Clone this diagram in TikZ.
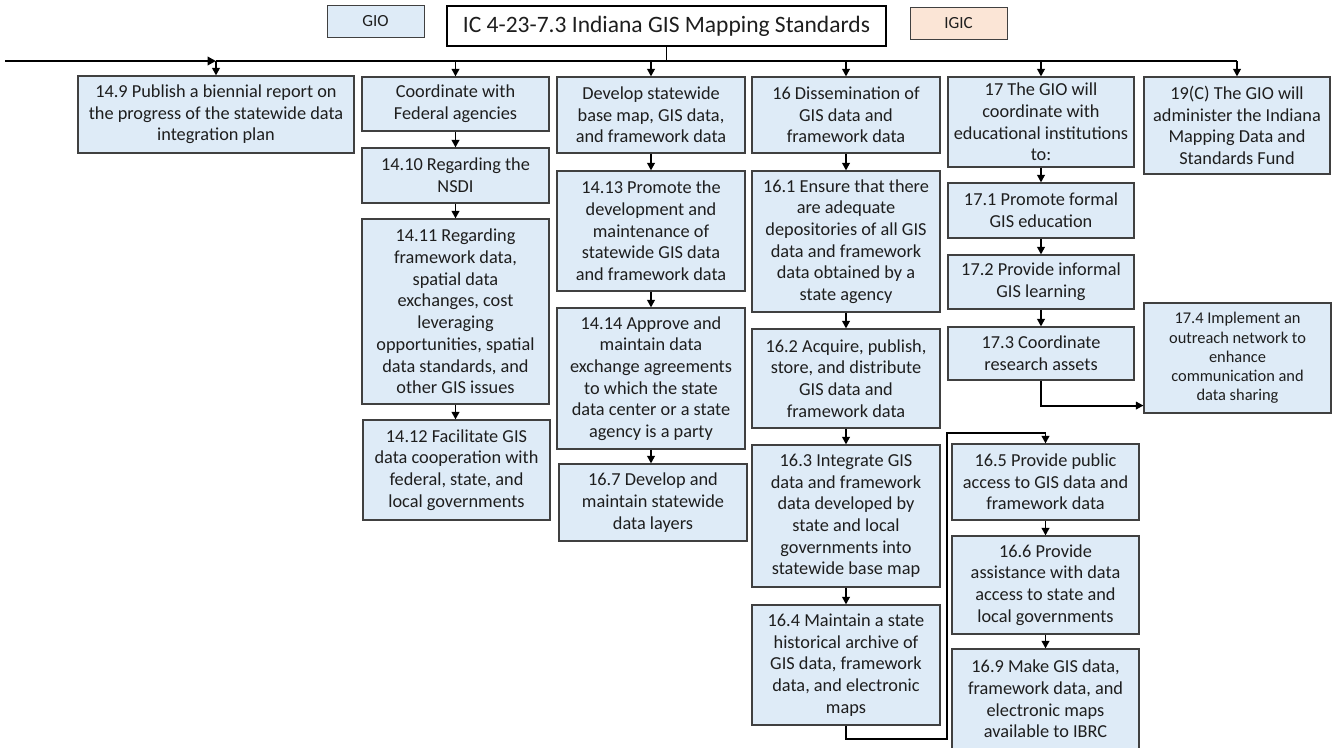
\documentclass[tikz,border=0pt]{standalone}
\usepackage{fontspec}
\setmainfont{Carlito}
\usetikzlibrary{arrows.meta}
\definecolor{boxfill}{RGB}{222,235,247}
\definecolor{igicfill}{RGB}{251,229,214}
\definecolor{boxline}{RGB}{64,64,64}
\definecolor{txt}{RGB}{30,30,30}
\begin{document}
\begin{tikzpicture}[x=1pt,y=-1pt,
  bx/.style={draw=boxline, fill=boxfill, line width=1.1pt, align=center, inner sep=0pt,
    text=txt, font=\fontsize{18.3}{21.7}\selectfont},
  smallbx/.style={bx, font=\fontsize{16.4}{19.2}\selectfont},
  tagbx/.style={draw=boxline, line width=0.9pt, align=center, inner sep=0pt,
    text=txt, font=\fontsize{17}{20}\selectfont},
  arr/.style={line width=1.9pt, -{Triangle[length=7.5pt,width=7.5pt]}},
  ln/.style={line width=1.9pt},
  bus/.style={line width=2.6pt}]
\useasboundingbox (0,0) rectangle (1336,747);
\fill[white] (0,0) rectangle (1336,747);

% header
\node[draw=black, line width=1.9pt, fill=white, minimum width=439pt, minimum height=40pt, inner sep=0pt,
  text=txt, font=\fontsize{23.5}{27}\selectfont] (title) at (666.5,26) {IC 4-23-7.3 Indiana GIS Mapping Standards};
\node[tagbx, fill=boxfill, minimum width=97pt, minimum height=32pt] (gio) at (375.5,21) {GIO};
\node[tagbx, fill=igicfill, minimum width=97pt, minimum height=32pt] (igic) at (958.5,23) {IGIC};

% row 1
\node[bx, minimum width=276pt, minimum height=77pt] (b149) at (216,114.5)
  {14.9 Publish a biennial report on\\the progress of the statewide data\\integration plan};
\node[bx, minimum width=187pt, minimum height=54pt] (coord) at (455.5,104)
  {Coordinate with\\Federal agencies};
\node[bx, minimum width=188pt, minimum height=76pt] (dev) at (651,115)
  {Develop statewide\\base map, GIS data,\\and framework data};
\node[bx, minimum width=188pt, minimum height=76pt] (dis) at (846,115)
  {16 Dissemination of\\GIS data and\\framework data};
\node[bx, minimum width=186pt, minimum height=90pt] (g17) at (1041,122)
  {17 The GIO will\\coordinate with\\educational institutions\\to:};
\node[bx, minimum width=186pt, minimum height=97pt] (g19) at (1237,125.5)
  {19(C) The GIO will\\administer the Indiana\\Mapping Data and\\Standards Fund};

% column 2
\node[bx, minimum width=187pt, minimum height=55pt] (b1410) at (455.5,175.5)
  {14.10 Regarding the\\NSDI};
\node[bx, minimum width=187pt, minimum height=185pt] (b1411) at (455.5,311.5)
  {14.11 Regarding\\framework data,\\spatial data\\exchanges, cost\\leveraging\\opportunities, spatial\\data standards, and\\other GIS issues};
\node[bx, minimum width=187pt, minimum height=100pt] (b1412) at (456.5,470)
  {14.12 Facilitate GIS\\data cooperation with\\federal, state, and\\local governments};

% column 3
\node[bx, minimum width=188pt, minimum height=120pt] (b1413) at (651,231)
  {14.13 Promote the\\development and\\maintenance of\\statewide GIS data\\and framework data};
\node[bx, minimum width=188pt, minimum height=141pt] (b1414) at (651,378.5)
  {14.14 Approve and\\maintain data\\exchange agreements\\to which the state\\data center or a state\\agency is a party};
\node[bx, minimum width=188pt, minimum height=77pt] (b167) at (653,502.5)
  {16.7 Develop and\\maintain statewide\\data layers};

% column 4
\node[bx, minimum width=188pt, minimum height=141pt] (b161) at (846,241.5)
  {16.1 Ensure that there\\are adequate\\depositories of all GIS\\data and framework\\data obtained by a\\state agency};
\node[bx, minimum width=188pt, minimum height=99pt] (b162) at (846,378.5)
  {16.2 Acquire, publish,\\store, and distribute\\GIS data and\\framework data};
\node[bx, minimum width=188pt, minimum height=142pt] (b163) at (846,516)
  {16.3 Integrate GIS\\data and framework\\data developed by\\state and local\\governments into\\statewide base map};
\node[bx, minimum width=188pt, minimum height=120pt] (b164) at (846,665)
  {16.4 Maintain a state\\historical archive of\\GIS data, framework\\data, and electronic\\maps};

% column 5
\node[bx, minimum width=186pt, minimum height=55pt] (b171) at (1041,210.5)
  {17.1 Promote formal\\GIS education};
\node[bx, minimum width=186pt, minimum height=54pt] (b172) at (1041,282)
  {17.2 Provide informal\\GIS learning};
\node[bx, minimum width=186pt, minimum height=53pt] (b173) at (1041,353.5)
  {17.3 Coordinate\\research assets};
\node[smallbx, minimum width=187pt, minimum height=110pt] (b174) at (1237.5,358)
  {17.4 Implement an\\outreach network to\\enhance\\communication and\\data sharing};
\node[bx, minimum width=187pt, minimum height=76pt] (b165) at (1045.5,482)
  {16.5 Provide public\\access to GIS data and\\framework data};
\node[bx, minimum width=187pt, minimum height=98pt] (b166) at (1045.5,585)
  {16.6 Provide\\assistance with data\\access to state and\\local governments};
\node[bx, minimum width=187pt, minimum height=100pt] (b169) at (1045.5,699)
  {16.9 Make GIS data,\\framework data, and\\electronic maps\\available to IBRC};

% bus
\coordinate (busL) at (5,61);
\draw[ln] (title.south) -- (title.south |- busL);
\draw[bus, -{Triangle[length=8.5pt,width=8.5pt]}] (busL) -- (b149.north |- busL);
\draw[bus] (b149.north |- busL) -- (g19.north |- busL);
\foreach \n in {b149,coord,dev,dis,g17,g19}
  \draw[arr] (\n.north |- busL) -- (\n.north);

% vertical chains
\draw[arr] (coord.south) -- (b1410.north);
\draw[arr] (b1410.south) -- (b1411.north);
\draw[arr] (b1411.south) -- (b1411.south |- b1412.north);
\draw[arr] (dev.south) -- (b1413.north);
\draw[arr] (b1413.south) -- (b1414.north);
\draw[arr] (b1414.south) -- (b1414.south |- b167.north);
\draw[arr] (dis.south) -- (b161.north);
\draw[arr] (b161.south) -- (b162.north);
\draw[arr] (b162.south) -- (b163.north);
\draw[arr] (b163.south) -- (b164.north);
\draw[arr] (g17.south) -- (b171.north);
\draw[arr] (b171.south) -- (b172.north);
\draw[arr] (b172.south) -- (b173.north);
\draw[arr] (b165.south) -- (b166.north);
\draw[arr] (b166.south) -- (b169.north);

% elbows
\draw[arr] (b173.south) |- ([yshift=8pt]b174.south west);
\coordinate (r1) at (947,739);
\coordinate (r2) at (947,433);
\draw[arr] (b164.south) |- (r1) -- (r2) -| (b165.north);
\end{tikzpicture}
\end{document}
